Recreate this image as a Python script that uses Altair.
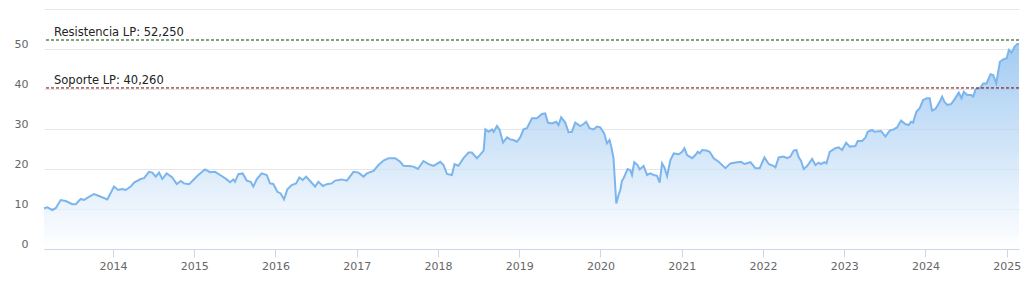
import altair as alt
import pandas as pd

# Decimal years and closing values
years = [
    2013.150, 2013.191, 2013.252, 2013.294, 2013.356, 2013.417, 2013.499, 2013.541,
    2013.602, 2013.643, 2013.683, 2013.766, 2013.828, 2013.930, 2014.012, 2014.062,
    2014.115, 2014.156, 2014.218, 2014.259, 2014.341, 2014.382, 2014.443, 2014.484,
    2014.526, 2014.567, 2014.607, 2014.661, 2014.730, 2014.785, 2014.834, 2014.874,
    2014.936, 2014.977, 2015.050, 2015.133, 2015.195, 2015.256, 2015.339, 2015.400,
    2015.441, 2015.482, 2015.502, 2015.543, 2015.597, 2015.647, 2015.696, 2015.728,
    2015.770, 2015.831, 2015.893, 2015.934, 2015.974, 2016.024, 2016.065, 2016.106,
    2016.147, 2016.201, 2016.254, 2016.294, 2016.336, 2016.377, 2016.426, 2016.488,
    2016.528, 2016.583, 2016.632, 2016.693, 2016.734, 2016.816, 2016.878, 2016.959,
    2017.021, 2017.082, 2017.124, 2017.206, 2017.267, 2017.329, 2017.390, 2017.473,
    2017.534, 2017.575, 2017.637, 2017.698, 2017.752, 2017.821, 2017.883, 2017.945,
    2018.027, 2018.068, 2018.110, 2018.171, 2018.203, 2018.252, 2018.314, 2018.376,
    2018.417, 2018.479, 2018.520, 2018.562, 2018.583, 2018.623, 2018.665, 2018.685,
    2018.727, 2018.759, 2018.801, 2018.850, 2018.889, 2018.930, 2018.972, 2019.012,
    2019.053, 2019.095, 2019.157, 2019.218, 2019.280, 2019.320, 2019.353, 2019.403,
    2019.456, 2019.484, 2019.517, 2019.567, 2019.607, 2019.649, 2019.690, 2019.751,
    2019.792, 2019.825, 2019.866, 2019.916, 2019.957, 2019.998, 2020.047, 2020.080,
    2020.112, 2020.133, 2020.161, 2020.195, 2020.223, 2020.244, 2020.265, 2020.285,
    2020.334, 2020.367, 2020.388, 2020.416, 2020.457, 2020.482, 2020.531, 2020.573,
    2020.613, 2020.654, 2020.696, 2020.728, 2020.757, 2020.786, 2020.819, 2020.860,
    2020.901, 2020.962, 2021.004, 2021.032, 2021.065, 2021.127, 2021.167, 2021.196,
    2021.220, 2021.250, 2021.303, 2021.343, 2021.393, 2021.454, 2021.537, 2021.599,
    2021.681, 2021.730, 2021.771, 2021.845, 2021.906, 2021.959, 2022.017, 2022.070,
    2022.132, 2022.153, 2022.193, 2022.255, 2022.297, 2022.337, 2022.378, 2022.411,
    2022.440, 2022.469, 2022.501, 2022.543, 2022.605, 2022.645, 2022.686, 2022.715,
    2022.756, 2022.781, 2022.821, 2022.892, 2022.932, 2022.974, 2023.023, 2023.068,
    2023.138, 2023.166, 2023.220, 2023.261, 2023.289, 2023.343, 2023.374, 2023.454,
    2023.507, 2023.560, 2023.609, 2023.651, 2023.700, 2023.753, 2023.794, 2023.823,
    2023.848, 2023.889, 2023.930, 2023.971, 2024.020, 2024.052, 2024.082, 2024.123,
    2024.176, 2024.205, 2024.234, 2024.267, 2024.316, 2024.357, 2024.410, 2024.443,
    2024.472, 2024.513, 2024.563, 2024.587, 2024.616, 2024.669, 2024.710, 2024.751,
    2024.800, 2024.833, 2024.870, 2024.915, 2024.957, 2024.998, 2025.026, 2025.059,
    2025.096, 2025.130, 2025.150,
]
values = [
    10.2, 10.4, 9.75, 10.2, 12.25, 12.0, 11.2, 11.2,
    12.5, 12.25, 12.8, 13.75, 13.25, 12.4, 15.6, 14.75,
    15.0, 14.75, 15.6, 16.6, 17.5, 17.7, 19.3, 19.1,
    18.1, 19.1, 17.5, 18.9, 17.9, 16.25, 17.0, 16.4,
    16.2, 17.0, 18.5, 19.9, 19.2, 19.3, 18.25, 17.4,
    16.7, 17.4, 16.8, 18.7, 18.9, 17.1, 16.8, 15.6,
    17.4, 18.9, 18.5, 16.4, 16.25, 14.3, 13.9, 12.4,
    14.9, 16.0, 16.4, 17.9, 17.25, 18.1, 17.0, 15.6,
    16.8, 15.75, 16.2, 16.4, 17.1, 17.4, 17.1, 19.3,
    19.1, 18.1, 18.9, 19.5, 21.0, 22.1, 22.7, 22.7,
    21.8, 20.8, 20.75, 20.6, 20.0, 22.0, 21.2, 20.8,
    21.8, 21.0, 18.75, 18.5, 21.2, 20.8, 22.7, 24.1,
    24.1, 22.7, 23.6, 24.6, 29.9, 29.3, 29.9, 29.3,
    30.75, 29.75, 26.6, 27.9, 27.4, 27.25, 26.8, 27.9,
    29.9, 30.2, 32.7, 32.7, 33.75, 33.9, 31.6, 31.4,
    31.8, 31.0, 32.9, 31.6, 29.2, 29.3, 31.6, 30.75,
    31.25, 31.8, 30.2, 29.9, 30.6, 30.4, 28.9, 26.4,
    27.25, 25.6, 22.7, 11.4, 13.5, 14.75, 17.1, 17.7,
    20.0, 19.7, 18.5, 21.7, 21.0, 19.9, 20.75, 18.5,
    18.9, 18.5, 18.3, 16.6, 21.4, 20.4, 18.25, 22.25,
    23.9, 23.7, 24.3, 25.2, 23.5, 22.7, 23.5, 24.3,
    23.9, 24.75, 24.6, 24.3, 22.7, 21.8, 20.2, 21.4,
    21.7, 21.8, 21.25, 21.7, 20.2, 20.2, 22.9, 21.25,
    20.75, 20.4, 22.9, 23.1, 22.7, 23.1, 24.6, 24.75,
    22.9, 22.0, 20.0, 20.75, 22.5, 21.0, 21.6, 21.25,
    21.7, 21.4, 24.3, 25.2, 25.4, 24.75, 26.6, 25.6,
    25.75, 27.0, 27.0, 27.8, 29.3, 29.75, 29.3, 29.5,
    28.1, 29.6, 29.9, 30.4, 32.1, 31.25, 31.0, 31.8,
    31.6, 34.3, 35.2, 37.25, 37.7, 37.7, 34.6, 35.0,
    36.8, 38.1, 36.8, 36.0, 36.25, 37.4, 39.1, 37.7,
    39.3, 38.5, 38.5, 38.1, 39.9, 40.2, 41.4, 41.4,
    43.7, 43.5, 41.4, 46.8, 47.4, 47.7, 49.75, 49.1,
    50.6, 51.25, 51.25,
]

level_labels = ["Resistencia LP: 52,250", "Soporte LP: 40,260"]
level_values = [52.25, 40.26]
level_colors = ["#004400", "#6e0000"]

y_ticks = [0, 10, 20, 30, 40, 50, 60]
x_tick_years = list(range(2014, 2026))


def to_date(y):
    base = pd.Timestamp(year=int(y), month=1, day=1)
    nxt = pd.Timestamp(year=int(y) + 1, month=1, day=1)
    return base + (nxt - base) * (y - int(y))


df = pd.DataFrame({"date": [to_date(y) for y in years], "value": values})
levels = pd.DataFrame({"label": level_labels, "value": level_values, "color": level_colors})

FONT = "DejaVu Sans"
yscale = alt.Scale(domain=[0, 60], nice=False, zero=True)
y_axis = alt.Axis(values=y_ticks, title=None, domain=False, ticks=False,
                  gridColor="#e6e6e6", labelPadding=16, labelFont=FONT,
                  labelFontSize=11, labelColor="#666666", labelOverlap=False,
                  labelBaseline="alphabetic", labelOffset=-2,
                  labelExpr="datum.value == 60 ? '' : datum.label")

area = alt.Chart(df).mark_area(
    line={"color": "#7cb5ec", "strokeWidth": 2},
    color=alt.Gradient(
        gradient="linear",
        stops=[alt.GradientStop(color="#7cb5ec", offset=0),
               alt.GradientStop(color="#ffffff", offset=1)],
        x1=1, x2=1, y1=0, y2=1,
    ),
).encode(
    x=alt.X("date:T", scale=alt.Scale(nice=False),
            axis=alt.Axis(values=[alt.DateTime(year=y, month=1, date=1) for y in x_tick_years],
                          format="%Y", title=None, grid=False,
                          domainColor="#ccd6eb", tickColor="#ccd6eb", tickSize=8,
                          labelPadding=3, labelFont=FONT, labelFontSize=11,
                          labelColor="#666666", labelFlush=False)),
    y=alt.Y("value:Q", scale=yscale, axis=y_axis),
)

rules = alt.Chart(levels).mark_rule(strokeWidth=1, strokeDash=[3, 2]).encode(
    y=alt.Y("value:Q", scale=yscale, axis=y_axis),
    color=alt.Color("color:N", scale=None),
)

texts = alt.Chart(levels).mark_text(
    align="left", baseline="alphabetic", dy=-4, font=FONT, fontSize=11.5, color="#222222"
).encode(
    x=alt.value(10),
    y=alt.Y("value:Q", scale=yscale, axis=y_axis),
    text="label:N",
)

chart = alt.layer(area, rules, texts).properties(
    width=975, height=240,
    autosize=alt.AutoSizeParams(type="none"),
    padding={"left": 44, "top": 9, "right": 8, "bottom": 37},
    background="white",
).configure_view(stroke=None)

chart.save("out.html", embed_options={"renderer": "svg", "actions": False})
